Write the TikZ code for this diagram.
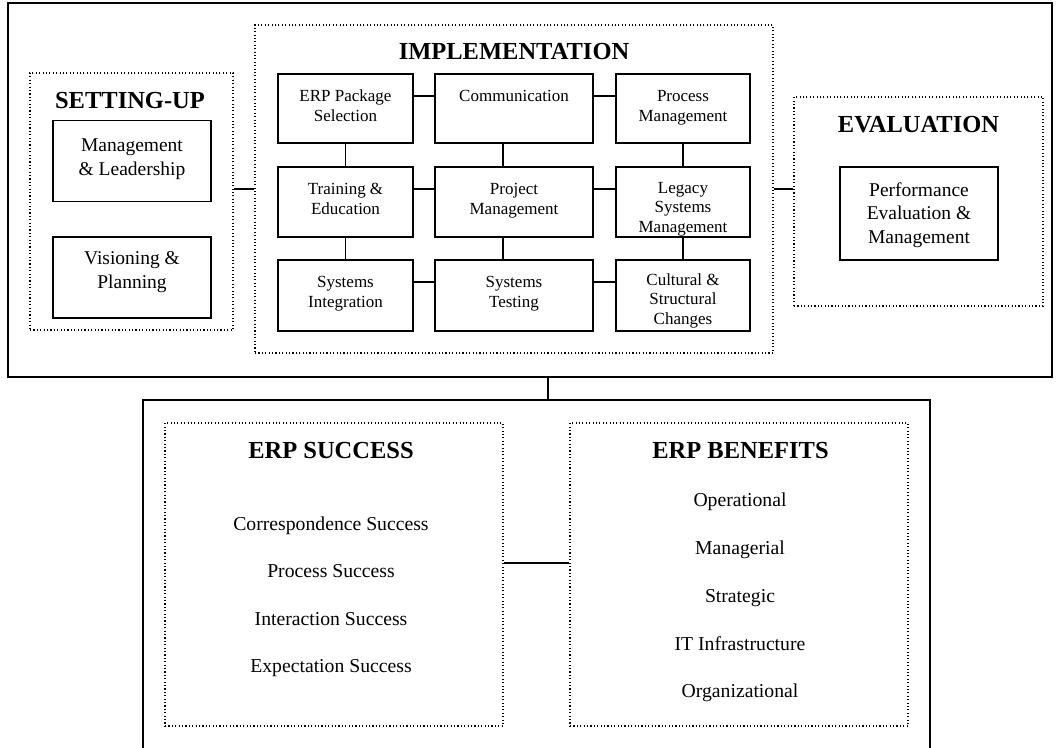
\documentclass[tikz,border=0pt]{standalone}
\usepackage{fontspec}
\setmainfont{Liberation Serif}
\usetikzlibrary{calc}
\begin{document}
\begin{tikzpicture}[x=1pt,y=-1pt,
  outerbox/.style={draw, line width=2pt, inner sep=0pt},
  solidbox/.style={draw, line width=1.6pt, inner sep=0pt},
  dotbox/.style={draw, line width=1.1pt, dash pattern=on 1.1pt off 2.3pt, inner sep=0pt},
  conn/.style={line width=1.5pt},
  ttl/.style={font=\fontsize{24.5}{29}\selectfont\bfseries, anchor=base, inner sep=0pt},
  gtext/.style={font=\fontsize{17}{20}\selectfont, align=center, anchor=north, inner sep=0pt},
  gtextc/.style={font=\fontsize{17}{19.5}\selectfont, align=center, anchor=north, inner sep=0pt},
  btext/.style={font=\fontsize{19.5}{24}\selectfont, align=center, anchor=north, inner sep=0pt},
  ptext/.style={font=\fontsize{19.5}{23.5}\selectfont, align=center, anchor=north, inner sep=0pt},
  ltext/.style={font=\fontsize{19.7}{24}\selectfont, anchor=base, inner sep=0pt},
]
\useasboundingbox (0,0) rectangle (1057,747);

% outer frames
\node[outerbox, minimum width=1044pt, minimum height=374pt] (top) at (530,190) {};
\node[outerbox, minimum width=787pt, minimum height=360pt] (bot) at (536.5,580) {};
\coordinate (tb) at (548,0);
\draw[conn] (top.south -| tb) -- (bot.north -| tb);

% phase boxes
\node[dotbox, minimum width=203pt, minimum height=257pt] (setup) at (131.5,201.5) {};
\node[dotbox, minimum width=518pt, minimum height=328pt] (impl) at (514,189) {};
\node[dotbox, minimum width=249pt, minimum height=209pt] (eval) at (918.5,201.5) {};
\draw[conn] (impl.west) -- (impl.west -| setup.east);
\draw[conn] (impl.east) -- (impl.east -| eval.west);

% titles
\node[ttl] (tsetup) at (130,108.3) {SETTING-UP};
\node[ttl] (timpl) at (514,59) {IMPLEMENTATION};
\node[ttl] (teval) at (918.5,132) {EVALUATION};

% setting-up boxes
\node[solidbox, minimum width=158pt, minimum height=81pt] (ml) at (132,161) {};
\node[btext] (mlt) at ($(ml.north)+(0,15)$) {\strut Management\\\& Leadership};
\node[solidbox, minimum width=158pt, minimum height=81pt] (vp) at (132,277.5) {};
\node[btext] (vpt) at ($(vp.north)+(0,11.5)$) {\strut Visioning \&\\Planning};

% evaluation box
\node[solidbox, minimum width=158pt, minimum height=93pt] (pe) at (919,213.5) {};
\node[ptext] (pet) at ($(pe.north)+(0,13.5)$) {\strut Performance\\Evaluation \&\\Management};

% implementation grid
\node[solidbox, minimum width=135pt, minimum height=69pt] (g11) at (345.5,108.5) {};
\node[solidbox, minimum width=158pt, minimum height=69pt] (g12) at (514,108.5) {};
\node[solidbox, minimum width=134pt, minimum height=69pt] (g13) at (683,108.5) {};
\node[solidbox, minimum width=135pt, minimum height=70pt] (g21) at (345.5,202) {};
\node[solidbox, minimum width=158pt, minimum height=70pt] (g22) at (514,202) {};
\node[solidbox, minimum width=134pt, minimum height=70pt] (g23) at (683,202) {};
\node[solidbox, minimum width=135pt, minimum height=71pt] (g31) at (345.5,295.5) {};
\node[solidbox, minimum width=158pt, minimum height=71pt] (g32) at (514,295.5) {};
\node[solidbox, minimum width=134pt, minimum height=71pt] (g33) at (683,295.5) {};

\node[gtext] (g11t) at ($(g11.north)+(0,14.5)$) {\strut ERP Package\\Selection};
\node[gtext] (g12t) at ($(g12.north)+(0,14.5)$) {\strut Communication};
\node[gtext] (g13t) at ($(g13.north)+(0,14.5)$) {\strut Process\\Management};
\node[gtext] (g21t) at ($(g21.north)+(0,13.8)$) {\strut Training \&\\Education};
\node[gtext] (g22t) at ($(g22.north)+(0,13.8)$) {\strut Project\\Management};
\node[gtextc] (g23t) at ($(g23.north)+(0,13)$) {\strut Legacy\\Systems\\Management};
\node[gtext] (g31t) at ($(g31.north)+(0,14.5)$) {\strut Systems\\Integration};
\node[gtext] (g32t) at ($(g32.north)+(0,14.5)$) {\strut Systems\\Testing};
\node[gtextc] (g33t) at ($(g33.north)+(0,12)$) {\strut Cultural \&\\Structural\\Changes};

% grid connectors
\draw[conn] ($(g11.north east)+(0,23)$) -- ($(g12.north west)+(0,23)$);
\draw[conn] ($(g12.north east)+(0,23)$) -- ($(g13.north west)+(0,23)$);
\draw[conn] ($(g21.north east)+(0,23)$) -- ($(g22.north west)+(0,23)$);
\draw[conn] ($(g22.north east)+(0,23)$) -- ($(g23.north west)+(0,23)$);
\draw[conn] ($(g31.north east)+(0,23)$) -- ($(g32.north west)+(0,23)$);
\draw[conn] ($(g32.north east)+(0,23)$) -- ($(g33.north west)+(0,23)$);
\draw[conn] (g11.south) -- (g21.north);
\draw[conn] (g21.south) -- (g31.north);
\draw[conn] ($(g12.south)+(-11,0)$) -- ($(g22.north)+(-11,0)$);
\draw[conn] ($(g22.south)+(-11,0)$) -- ($(g32.north)+(-11,0)$);
\draw[conn] (g13.south) -- (g23.north);
\draw[conn] (g23.south) -- (g33.north);

% bottom part
\node[dotbox, minimum width=338pt, minimum height=303pt] (succ) at (334,574.5) {};
\node[dotbox, minimum width=338pt, minimum height=303pt] (ben) at (739,574.5) {};
\draw[conn] ($(succ.east)+(0,-11.5)$) -- ($(ben.west)+(0,-11.5)$);

\node[ttl] (tsucc) at (331,458.7) {ERP SUCCESS};
\node[ttl] (tben) at (740.5,458.7) {ERP BENEFITS};

\node[ltext] (s1) at (331,530) {Correspondence Success};
\node[ltext] (s2) at (331,577.5) {Process Success};
\node[ltext] (s3) at (331,625) {Interaction Success};
\node[ltext] (s4) at (331,672.5) {Expectation Success};

\node[ltext] (b1) at (740,506.5) {Operational};
\node[ltext] (b2) at (740,554.5) {Managerial};
\node[ltext] (b3) at (740,602.5) {Strategic};
\node[ltext] (b4) at (740,650.5) {IT Infrastructure};
\node[ltext] (b5) at (740,697.5) {Organizational};
\end{tikzpicture}
\end{document}
